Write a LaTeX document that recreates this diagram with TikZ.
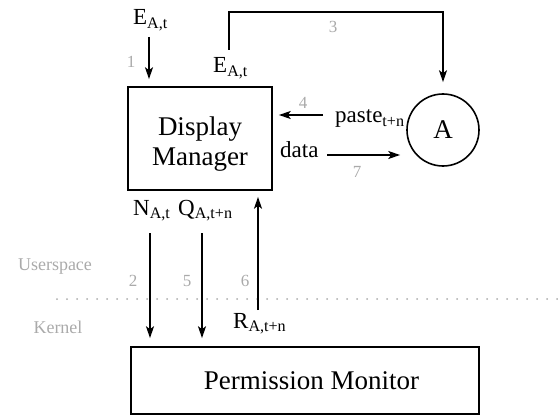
\documentclass[tikz,border=0pt]{standalone}
\usepackage{fontspec}
\setmainfont{Liberation Serif}
\usetikzlibrary{arrows.meta,calc}
\newcommand\lsub[1]{\textsubscript{#1}}
\definecolor{numgray}{HTML}{AAAAAA}
\tikzset{
  arr/.style={line width=1.6pt,-{Stealth[length=12pt,width=8pt,inset=3pt]}},
  boxnode/.style={draw,line width=1.6pt,rectangle,inner sep=0pt},
  bigtext/.style={font=\fontsize{27}{30}\selectfont,inner sep=0pt},
  lab/.style={font=\fontsize{23}{27}\selectfont,inner sep=0pt,anchor=base west},
  num/.style={font=\fontsize{17}{20}\selectfont,text=numgray,inner sep=0pt},
  zone/.style={font=\fontsize{18}{21}\selectfont,text=numgray,inner sep=0pt},
}
\begin{document}
\begin{tikzpicture}[x=1pt,y=-1pt]
\useasboundingbox (0,0) rectangle (558,420);
% boxes
\node[boxnode,minimum width=144pt,minimum height=103pt] (dm) at (200,138.5) {};
\node[bigtext,align=center,anchor=base] (dmtext) at (200,165) {Display\\Manager};
\node[boxnode,minimum width=348pt,minimum height=67pt] (pm) at (305,380.5) {};
\node[bigtext,anchor=base] (pmtext) at (311.5,389) {Permission Monitor};
\node[draw,circle,line width=1.6pt,minimum size=72pt,inner sep=0pt,bigtext] (A) at (443,130) {A};
% labels
\node[lab] (e1) at (133,25) {E\lsub{A,t}};
\node[lab] (e2) at (213,73) {E\lsub{A,t}};
\node[lab] (paste) at (335,123) {paste\lsub{t+n}};
\node[lab] (data) at (280,158) {data};
\node[lab] (n) at (133,215) {N\lsub{A,t}};
\node[lab] (q) at (178,215) {Q\lsub{A,t+n}};
\node[lab] (r) at (233,328) {R\lsub{A,t+n}};
% step numbers
\node[num] (n1) at (131,62) {1};
\node[num] (n3) at (333,27) {3};
\node[num] (n4) at (303,103) {4};
\node[num] (n7) at (357,172) {7};
\node[num] (n2) at (133,281) {2};
\node[num] (n5) at (187,281) {5};
\node[num] (n6) at (245,281) {6};
\node[zone] (us) at (55,267) {Userspace};
\node[zone] (kn) at (58,327) {Kernel};
% dotted boundary
\coordinate (dl) at (57,299);
\coordinate (dr) at (558,299);
\draw[numgray,line width=2pt,line cap=round,dash pattern=on 0pt off 10pt] (dl) -- (dr);
% connector endpoints
\coordinate (c1) at (149,37);
\coordinate (c3) at (229,50);
\coordinate (c3m) at (300,12);
\coordinate (c4) at (323,115);
\coordinate (c7) at (327,155);
\coordinate (c2) at (150,233);
\coordinate (c5) at (202,233);
\coordinate (c6) at (258,310);
% connectors
\draw[arr,shorten >=7pt] (c1) -- (c1 |- dm.north);
\draw[arr,shorten >=11pt] (c3) |- (c3m) -| (A.north);
\draw[arr,shorten >=6pt] (c4) -- (c4 -| dm.east);
\draw[arr,shorten >=6pt] (c7) -- (c7 -| A.west);
\draw[arr,shorten >=8pt] (c2) -- (c2 |- pm.north);
\draw[arr,shorten >=8pt] (c5) -- (c5 |- pm.north);
\draw[arr,shorten >=6pt] (c6) -- (c6 |- dm.south);
\end{tikzpicture}
\end{document}
